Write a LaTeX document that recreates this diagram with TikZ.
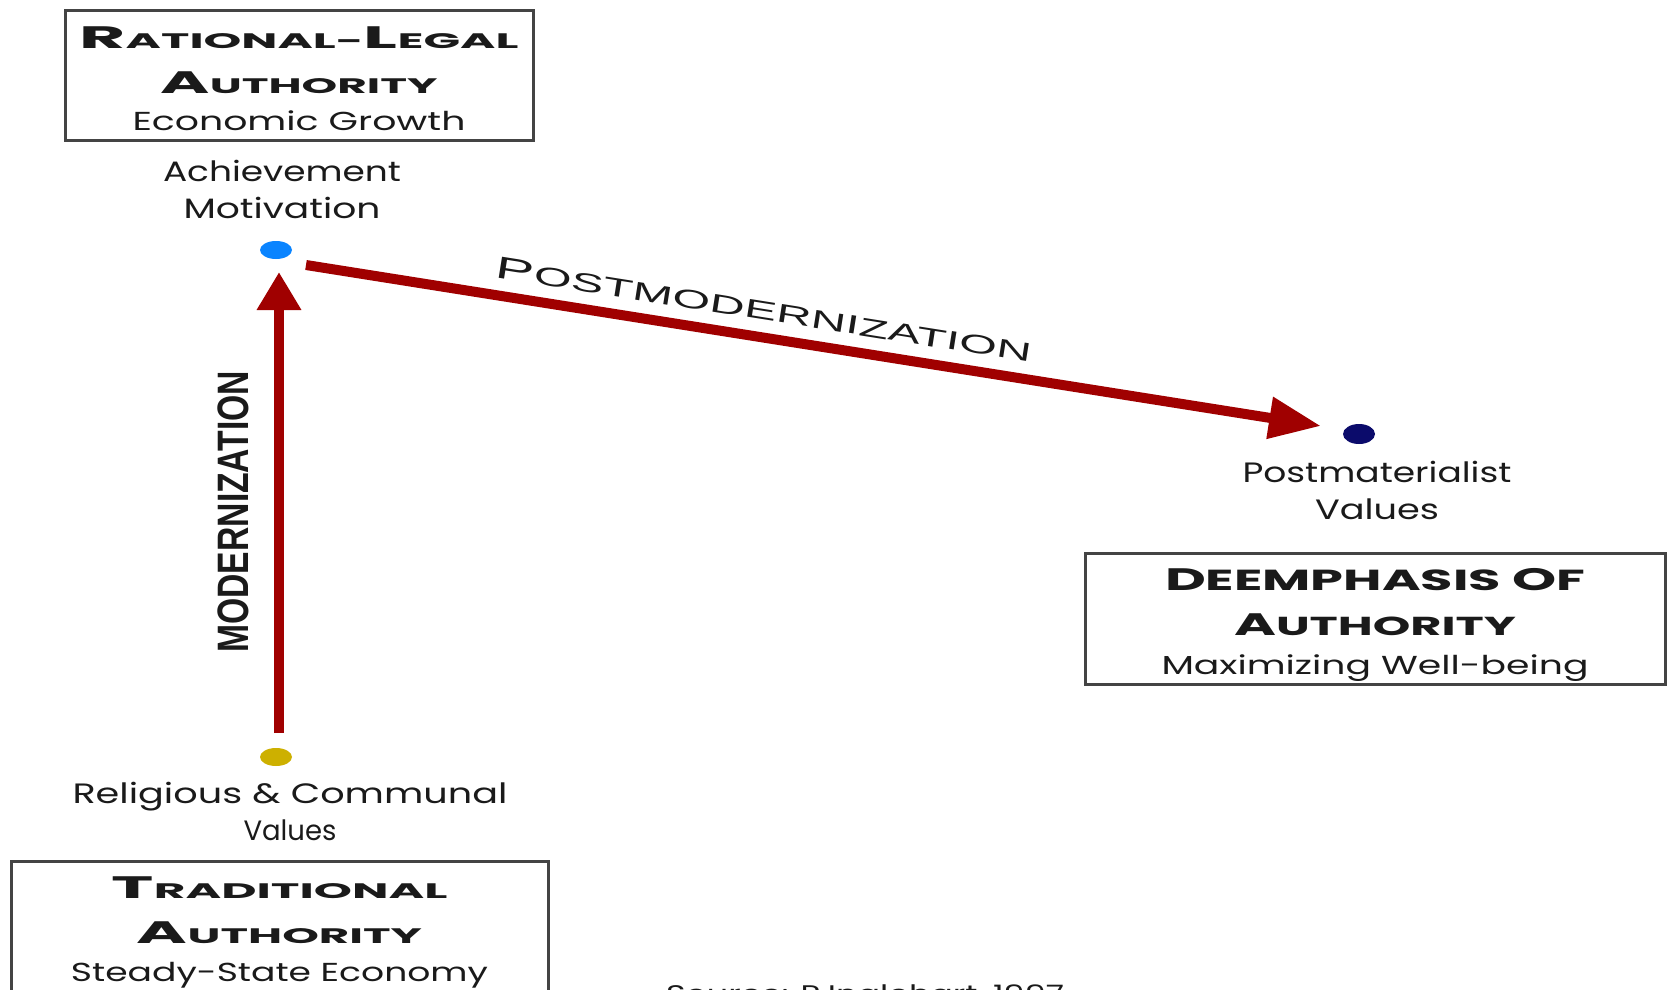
\documentclass[tikz,border=0pt]{standalone}
\usepackage{fontspec}
\setmainfont{Poppins}
\newfontfamily\arialf{Liberation Sans}
\usetikzlibrary{arrows.meta,calc,shapes.geometric}
\definecolor{boxgray}{HTML}{444444}
\definecolor{arrred}{HTML}{A00000}
\definecolor{dotblue}{HTML}{0A84FF}
\definecolor{dotyel}{HTML}{CDB000}
\definecolor{dotnavy}{HTML}{0B0B6B}
\definecolor{txt}{HTML}{1A1A1A}
\newsavebox\fbx
\newlength\fwl
\newcommand\fitw[2]{\sbox\fbx{#2}\setlength\fwl{\wd\fbx}\pgfmathsetmacro\fff{#1/\fwl}\scalebox{\fff}[1]{\usebox\fbx}}
\newcommand\Bg[1]{{\fontsize{31}{31}\selectfont#1}}
\newcommand\Sm[1]{\fontsize{#1}{#1}\selectfont}
\newcommand\lift[1]{\rule{0pt}{#1pt}}
\tikzset{
 box/.style={draw=boxgray, line width=3pt, inner sep=0pt, align=center, text=txt,
   font=\fontsize{26}{45}\selectfont},
 lab/.style={align=center, inner sep=0pt, text=txt, font=\fontsize{28}{37}\selectfont},
 dot/.style={ellipse, minimum width=32pt, minimum height=18pt, inner sep=0pt},
 arr/.style={draw=arrred, line width=10pt, -{Triangle[length=38pt,width=42pt]}},
 arrd/.style={draw=arrred, line width=10pt, -{Triangle[length=52pt,width=40pt]}},
}
\begin{document}
\begin{tikzpicture}[x=1pt,y=-1pt]
\useasboundingbox[fill=white] (0,0) rectangle (1671,990);
% boxes
\node[box, minimum width=468, minimum height=129] (rl) at (299,75.5)
 {\lift{29}{\bfseries\fitw{439}{\Sm{21}\Bg{R}ATIONAL-\Bg{L}EGAL}}\\
  {\bfseries\fitw{277}{\Sm{21}\Bg{A}UTHORITY}}\\[-8pt]
  \fitw{333}{Economic Growth}};
\node[box, minimum width=580, minimum height=131] (de) at (1375,618.5)
 {\lift{36}{\bfseries\fitw{420}{\Sm{29}\Bg{D}EEMPHASIS \Bg{O}F}}\\
  {\bfseries\fitw{282}{\Sm{26}\Bg{A}UTHORITY}}\\[-6pt]
  \fitw{427}{Maximizing Well-being}};
\node[box, minimum width=537, minimum height=134] (tr) at (279.5,928)
 {\lift{30}{\bfseries\fitw{336}{\Sm{21}\Bg{T}RADITIONAL}}\\
  {\bfseries\fitw{285}{\Sm{21}\Bg{A}UTHORITY}}\\[-7pt]
  \fitw{417}{Steady-State Economy}};
% dots
\node[dot, fill=dotblue] (blue) at (276,250) {};
\node[dot, fill=dotyel] (yel) at (276,757) {};
\node[dot, fill=dotnavy, minimum height=20pt] (navy) at (1359,434) {};
% labels
\node[lab] (ach) at (282,189.5) {\fitw{238}{Achievement}\\\fitw{197}{Motivation}};
\node[lab] (pm) at (1377,490) {\fitw{269}{Postmaterialist}\\\fitw{124}{Values}};
\node[lab] (rc) at (290,811) {\fitw{435}{Religious \& Communal}\\\fitw{93}{Values}};
% arrows
\draw[arr] ($(yel)+(3,-24)$) -- ($(blue)+(3,22)$)
  node[pos=.48, left=25pt, rotate=90, anchor=south, text=txt, inner sep=0pt]
  {\arialf\bfseries\fitw{282}{\fontsize{44}{44}\selectfont MODERNIZATION}};
\draw[arrd] ($(blue)+(30,15)$) -- ($(navy)+(-38,-8)$)
  node[pos=.447, sloped, above=12pt, text=txt, inner sep=0pt]
  {\arialf\fitw{542}{\fontsize{26}{26}\selectfont{\fontsize{31}{31}\selectfont P}OSTMODERNIZATION}};
% source
\node[text=txt, anchor=base, inner sep=0pt] (src) at (865,1002)
  {\fitw{398}{\fontsize{24}{24}\selectfont Source: R.Inglehart, 1997}};
\end{tikzpicture}
\end{document}
